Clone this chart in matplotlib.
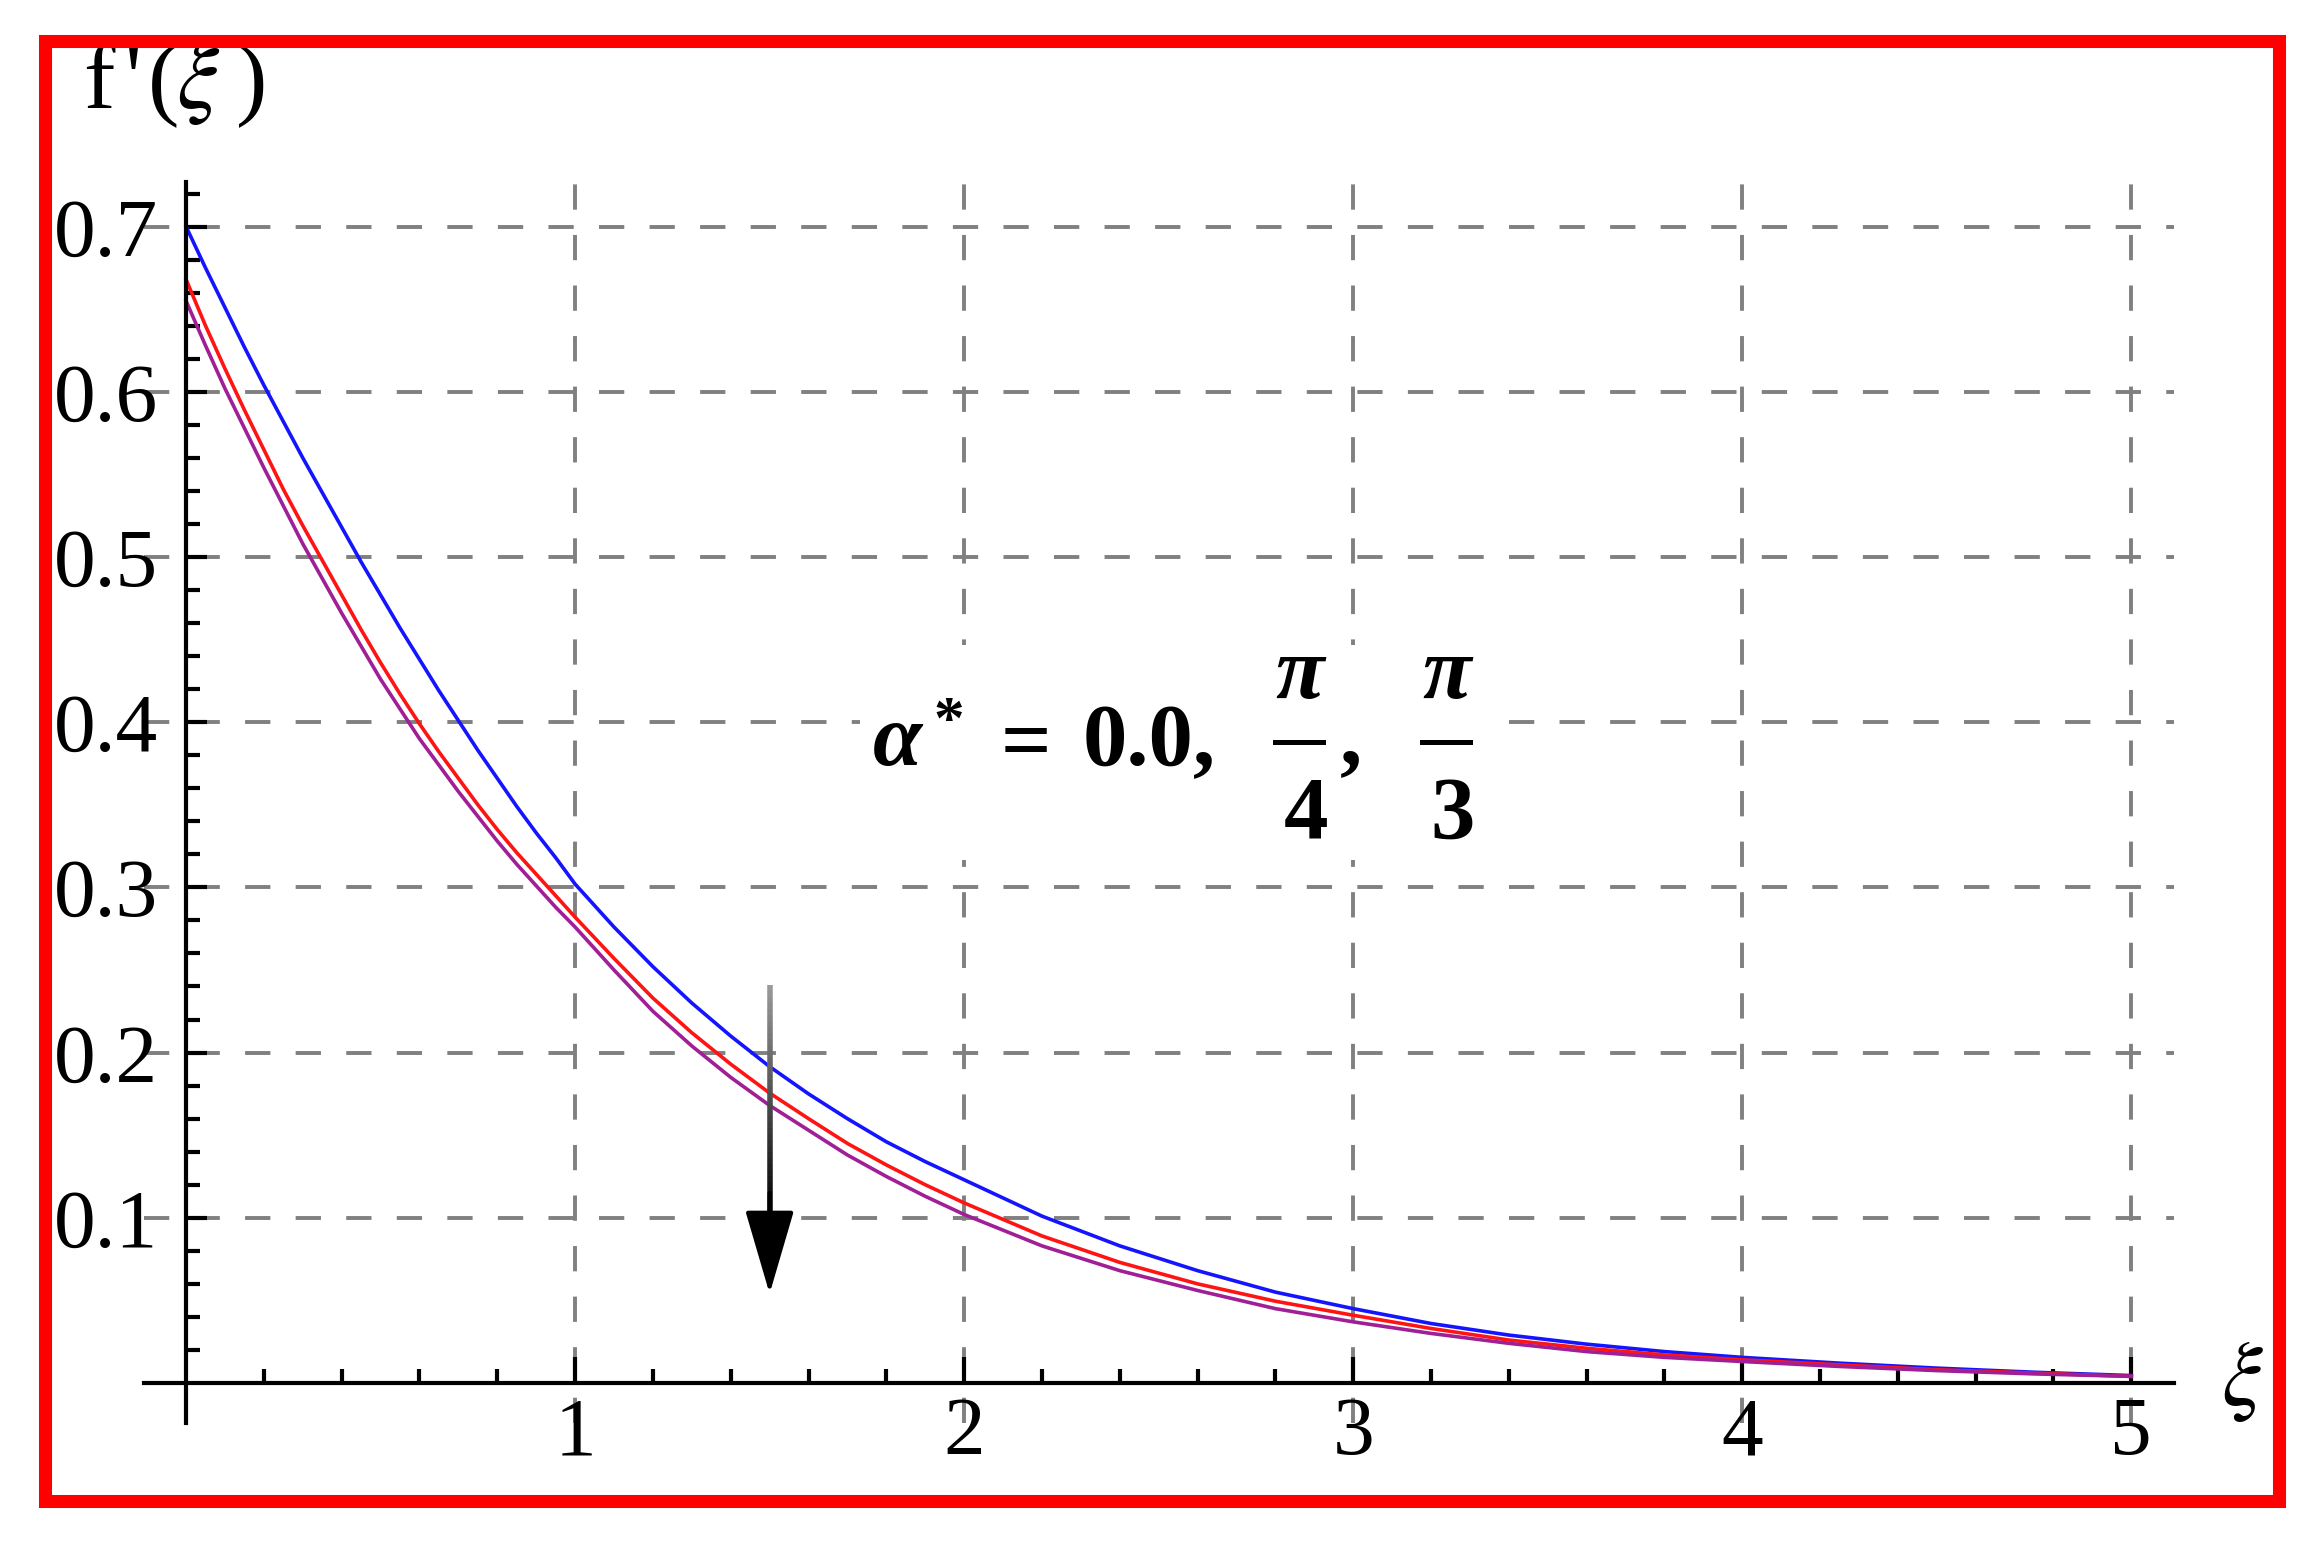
import numpy as np
import matplotlib
matplotlib.use('Agg')
import matplotlib.pyplot as plt
from matplotlib.collections import LineCollection
from matplotlib.lines import Line2D
from matplotlib.patches import Rectangle
from matplotlib.ticker import FixedLocator

plt.rcParams['font.family'] = ['Liberation Serif', 'DejaVu Serif']
plt.rcParams['mathtext.fontset'] = 'stix'

# valeurs
xi = [0.00, 0.05, 0.10, 0.15, 0.20, 0.25, 0.30, 0.35, 0.40, 0.45, 0.50,
      0.55, 0.60, 0.65, 0.70, 0.75, 0.80, 0.85, 0.90, 0.95, 1.00,
      1.1, 1.2, 1.3, 1.4, 1.5, 1.6, 1.7, 1.8, 1.9, 2.0,
      2.2, 2.4, 2.6, 2.8, 3.0, 3.2, 3.4, 3.6, 3.8, 4.0,
      4.25, 4.5, 4.75, 5.0]
f_alpha0 = [0.700, 0.675, 0.651, 0.627, 0.604, 0.582, 0.560, 0.539, 0.518,
            0.497, 0.477, 0.457, 0.438, 0.419, 0.401, 0.383, 0.366, 0.349,
            0.333, 0.318, 0.302,
            0.276, 0.252, 0.230, 0.210, 0.1915, 0.175, 0.160, 0.146, 0.134,
            0.123,
            0.101, 0.083, 0.068, 0.055, 0.045, 0.036, 0.029, 0.0235, 0.019,
            0.0155,
            0.012, 0.009, 0.0065, 0.0045]
f_alpha_pi4 = [0.668, 0.640, 0.614, 0.589, 0.565, 0.541, 0.519, 0.498, 0.477,
               0.456, 0.436, 0.417, 0.399, 0.382, 0.366, 0.350, 0.335, 0.321,
               0.308, 0.295, 0.282,
               0.257, 0.233, 0.212, 0.193, 0.1755, 0.160, 0.145, 0.132, 0.120,
               0.109,
               0.089, 0.073, 0.060, 0.0495, 0.041, 0.033, 0.026, 0.021, 0.017,
               0.014,
               0.011, 0.008, 0.006, 0.004]
f_alpha_pi3 = [0.655, 0.628, 0.602, 0.578, 0.554, 0.531, 0.508, 0.487, 0.466,
               0.446, 0.426, 0.408, 0.390, 0.374, 0.358, 0.343, 0.328, 0.314,
               0.301, 0.288, 0.276,
               0.250, 0.225, 0.204, 0.185, 0.168, 0.153, 0.138, 0.125, 0.113,
               0.102,
               0.083, 0.068, 0.056, 0.045, 0.037, 0.030, 0.024, 0.019, 0.0155,
               0.013,
               0.010, 0.0075, 0.0055, 0.004]

x_ticks = [1, 2, 3, 4, 5]
x_labels = ['1', '2', '3', '4', '5']
y_ticks = [0.1, 0.2, 0.3, 0.4, 0.5, 0.6, 0.7]
y_labels = ['0.1', '0.2', '0.3', '0.4', '0.5', '0.6', '0.7']

W, H = 2323, 1546


def px(x, y):
    # pixels de l'image -> fraction de figure
    return x / W, 1 - y / H


fig = plt.figure(figsize=(W / 100, H / 100), dpi=100)
ax = fig.add_axes([0.0620, 0.0798, 0.8739, 0.8025])
ax.set_xlim(-0.108, 5.11)
ax.set_ylim(-0.024, 0.727)

# axes croisés à l'origine
for side in ['top', 'right']:
    ax.spines[side].set_visible(False)
ax.spines['left'].set_position(('data', 0))
ax.spines['bottom'].set_position(('data', 0))
ax.spines['left'].set_linewidth(3)
ax.spines['bottom'].set_linewidth(3)

ax.set_xticks(x_ticks)
ax.set_xticklabels(x_labels)
ax.set_yticks(y_ticks)
ax.set_yticklabels(y_labels)
ax.xaxis.set_minor_locator(FixedLocator([v for v in np.arange(0.2, 5.01, 0.2)
                                         if abs(v - round(v)) > 1e-6]))
ax.yaxis.set_minor_locator(FixedLocator([v for v in np.arange(0.02, 0.721, 0.02)
                                         if abs(v * 10 - round(v * 10)) > 1e-6]))
ax.tick_params(axis='x', which='major', direction='in', length=19, width=3,
               pad=10, labelsize=60)
ax.tick_params(axis='x', which='minor', direction='in', length=10, width=3)
ax.tick_params(axis='y', which='major', direction='in', length=15, width=3,
               pad=20, labelsize=60)
ax.tick_params(axis='y', which='minor', direction='in', length=10, width=3)

ax.set_axisbelow(True)
ax.grid(True, which='major', color='#808080', lw=2.8, ls=(0, (6.5, 6.5)))

ax.plot(xi, f_alpha0, color='#1414ff', lw=2.6)
ax.plot(xi, f_alpha_pi4, color='#ff1414', lw=2.6)
ax.plot(xi, f_alpha_pi3, color='#a01e96', lw=2.6)

# flèche (dégradé gris -> noir)
arrow_x = 1.5
ys = np.linspace(0.241, 0.10, 40)
segs = [[(arrow_x, ys[i]), (arrow_x, ys[i + 1])] for i in range(len(ys) - 1)]
greys = np.linspace(0.6, 0.0, len(segs))
lc = LineCollection(segs, colors=[(g, g, g) for g in greys], linewidths=4,
                    capstyle='butt', zorder=4)
ax.add_collection(lc)
ax.annotate('', xy=(arrow_x, 0.054), xytext=(arrow_x, 0.115),
            arrowprops=dict(arrowstyle='-|>,head_length=1.06,head_width=0.31',
                            mutation_scale=50, color='black', lw=3,
                            shrinkA=0, shrinkB=0), zorder=5)

# fond blanc sous l'annotation
x0, y0 = px(860, 860)
x1, y1 = px(1494, 645)
fig.add_artist(Rectangle((x0, y0), x1 - x0, y1 - y0, transform=fig.transFigure,
                         facecolor='white', edgecolor='none', zorder=1))

bold = dict(fontsize=64, fontweight='bold', va='baseline', zorder=3)
fig.text(*px(873, 765), 'α', fontstyle='italic', **bold)
fig.text(*px(933, 738), '*', fontsize=44, fontweight='bold', va='baseline')
fig.text(*px(1001, 770), '=', **bold)
fig.text(*px(1083, 765), '0.0,', **bold)
for cx, den in [(1300, '4'), (1447, '3')]:
    fig.text(*px(cx, 698), 'π', ha='center', fontstyle='italic', **bold)
    fig.text(*px(cx + 6, 838), den, ha='center', **bold)
    bx0, by = px(cx - 25, 742)
    bx1, _ = px(cx + 23, 742)
    fig.add_artist(Line2D([bx0, bx1], [by, by], transform=fig.transFigure,
                          color='black', lw=3.6, zorder=3))
fig.text(*px(1340, 763), ',', **bold)

# étiquettes des axes
lab = dict(fontsize=68, va='baseline')
fig.text(*px(83, 108), 'f', **lab)
fig.text(*px(124, 108), "'", **lab)
fig.text(*px(148, 108), '(', **lab)
fig.text(*px(176, 108), r'$\xi$', **lab)
fig.text(*px(236, 108), ')', **lab)
fig.text(*px(2242, 1382), r'$\xi$', fontsize=66, ha='center', va='center')

# cadre rouge
fig.add_artist(Rectangle((0.01937, 0.02943), 0.98106 - 0.01937,
                         0.97316 - 0.02943, transform=fig.transFigure,
                         fill=False, edgecolor='red', lw=9.4, zorder=10))

fig.savefig('out.png', dpi=100)
